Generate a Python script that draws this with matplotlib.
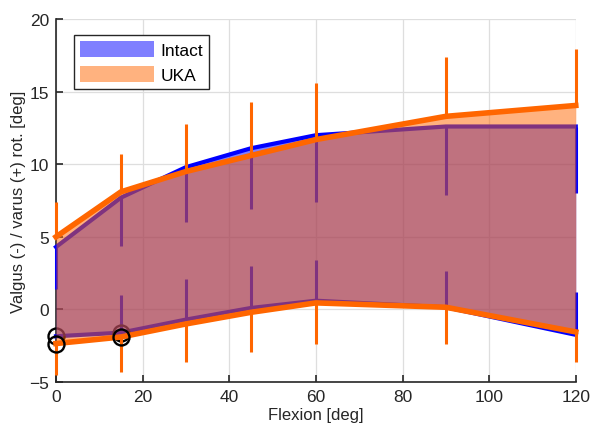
import numpy as np
import matplotlib
matplotlib.use("Agg")
import matplotlib.pyplot as plt

plt.rcParams['font.family'] = ['Liberation Sans', 'DejaVu Sans']

flexion = [0, 15, 30, 45, 60, 90, 120]

# intact band (mean + / mean -) and one-sided error bar ends
intact_upper = [4.3, 7.7, 9.8, 11.1, 12.0, 12.6, 12.6]
intact_lower = [-1.85, -1.6, -0.7, 0.1, 0.6, 0.15, -1.75]
intact_upper_bar = [1.4, 4.4, 6.0, 6.9, 7.4, 7.85, 8.0]
intact_lower_bar = [-1.85, 1.0, 2.1, 3.0, 3.4, 2.65, 1.2]

# UKA band
uka_upper = [5.0, 8.1, 9.5, 10.6, 11.7, 13.3, 14.05]
uka_lower = [-2.35, -1.9, -1.0, -0.2, 0.45, 0.15, -1.55]
uka_upper_bar = [7.4, 10.7, 12.75, 14.3, 15.6, 17.4, 17.95]
uka_lower_bar = [-4.5, -4.3, -3.6, -2.9, -2.4, -2.35, -3.65]

sig_idx = [0, 1]

blue = (0, 0, 1)
orange = (1, 0.4, 0)
dark = (0.15, 0.15, 0.15)

fig = plt.figure(figsize=(5.9, 4.27), dpi=100)
ax = fig.add_axes([0.0949, 0.103, 0.881, 0.850])

x = np.array(flexion)

# intact: lines and bars under the fills
ax.vlines(x, intact_upper, intact_upper_bar, color=blue, lw=2.2, zorder=1.5, clip_on=False)
ax.vlines(x, intact_lower, intact_lower_bar, color=blue, lw=2.2, zorder=1.5, clip_on=False)
ax.plot(x, intact_upper, color=blue, lw=3, zorder=1.6, clip_on=False)
ax.plot(x, intact_lower, color=blue, lw=3, zorder=1.6, clip_on=False)
ax.plot(x[sig_idx], np.array(intact_lower)[sig_idx], 'o', mfc='none', mec='k',
        ms=11.5, mew=1.7, zorder=1.7, clip_on=False)

ax.fill_between(x, intact_lower, intact_upper, color=blue, alpha=0.5, lw=0,
                label='Intact', zorder=2)
ax.fill_between(x, uka_lower, uka_upper, color=orange, alpha=0.5, lw=0,
                label='UKA', zorder=2.1)

# UKA: lines and bars on top
ax.vlines(x, uka_upper, uka_upper_bar, color=orange, lw=2.2, zorder=3, clip_on=False)
ax.vlines(x, uka_lower, uka_lower_bar, color=orange, lw=2.2, zorder=3, clip_on=False)
ax.plot(x, uka_upper, color=orange, lw=4, zorder=3.1, clip_on=False)
ax.plot(x, uka_lower, color=orange, lw=4, zorder=3.1, clip_on=False)
ax.plot(x[sig_idx], np.array(uka_lower)[sig_idx], 'o', mfc='none', mec='k',
        ms=11.5, mew=1.7, zorder=3.2, clip_on=False)

ax.set_xlim(0, 120)
ax.set_ylim(-5, 20)
ax.set_xticks(range(0, 121, 20))
ax.set_yticks(range(-5, 21, 5))
ax.grid(True, color=(0.87, 0.87, 0.87), lw=0.9)
ax.set_axisbelow(True)
for s in ['top', 'right']:
    ax.spines[s].set_visible(False)
for s in ['left', 'bottom']:
    ax.spines[s].set_color(dark)
    ax.spines[s].set_linewidth(1.2)
    ax.spines[s].set_zorder(1)
ax.tick_params(direction='in', length=5, width=1.2, color=dark,
               labelsize=12.5, labelcolor=dark, pad=5)
ax.set_xlabel('Flexion [deg]', fontsize=12, color=dark, labelpad=2)
ax.set_ylabel('Valgus (-) / varus (+) rot. [deg]', fontsize=12,
              color=dark, labelpad=2)

leg = ax.legend(loc='upper left', bbox_to_anchor=(0.034, 0.955), fontsize=12.5,
                handlelength=4.3, handleheight=1.0, handletextpad=0.35,
                borderpad=0.35, labelspacing=0.45, fancybox=False,
                framealpha=1, borderaxespad=0)
leg.get_frame().set_edgecolor(dark)
leg.get_frame().set_linewidth(1.0)

fig.savefig('out.png', dpi=100)
